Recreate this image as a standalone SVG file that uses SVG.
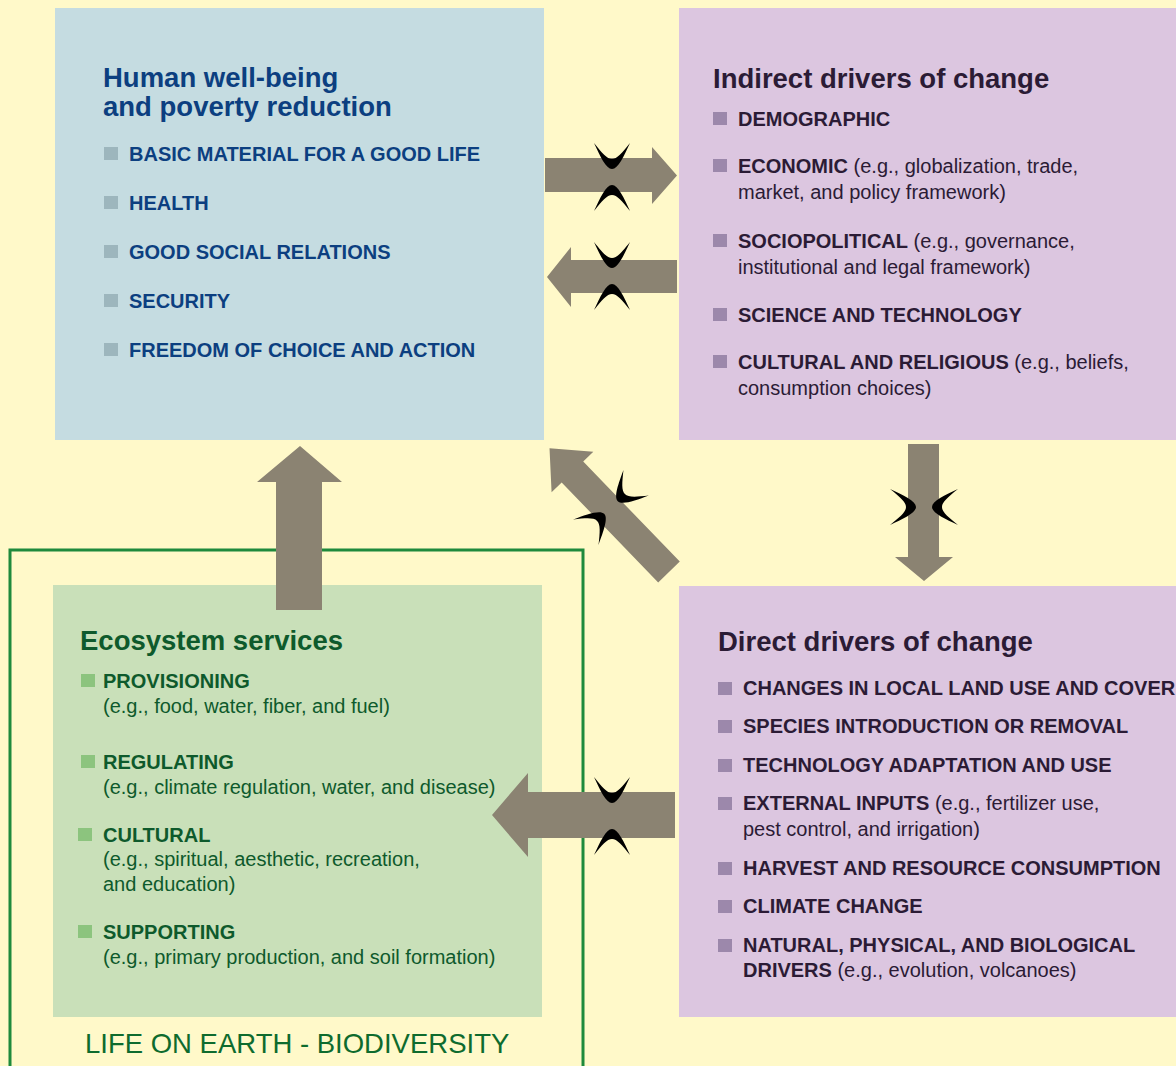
<svg xmlns="http://www.w3.org/2000/svg" xmlns:xlink="http://www.w3.org/1999/xlink" width="1176" height="1066" viewBox="0 0 1176 1066">
<style>
  text { font-family: "Liberation Sans", Arial, sans-serif; }
  .title { font-size: 27.5px; font-weight: bold; }
  .item { font-size: 20px; font-weight: bold; }
  .reg { font-size: 20px; font-weight: normal; }
  .blue { fill: #0C3F80; }
  .purp { fill: #2B1B35; }
  .green { fill: #0E5A2C; }
  .bq { fill: #9DB6BD; }
  .pq { fill: #9C88AB; }
  .gq { fill: #8CC47E; }
  .arrow { fill: #8B8372; }
  .mark { fill: #000000; }
</style>
<defs>
  <path id="cup" d="M-18,-13 C-12,0 -6,13 0,13 C6,13 12,0 18,-13 C10,-3 5,3 0,3 C-5,3 -10,-3 -18,-13 Z"/>
</defs>
<rect x="0" y="0" width="1176" height="1066" fill="#FFF9C9"/>

<g id="biodiversity">
  <rect x="10" y="550" width="573" height="540" fill="none" stroke="#1E8A3C" stroke-width="3"/>
  <text x="85" y="1053" style="font-size:27.5px" fill="#0E6B2E">LIFE ON EARTH - BIODIVERSITY</text>
</g>

<g id="wellbeing">
  <rect x="55" y="8" width="489" height="432" fill="#C5DCE1"/>
  <text class="title blue"><tspan x="103" y="87">Human well-being</tspan><tspan x="103" y="116">and poverty reduction</tspan></text>
  <rect class="bq" x="104" y="147" width="14" height="13"/>
  <text class="item blue" x="129" y="161">BASIC MATERIAL FOR A GOOD LIFE</text>
  <rect class="bq" x="104" y="196" width="14" height="13"/>
  <text class="item blue" x="129" y="210">HEALTH</text>
  <rect class="bq" x="104" y="245" width="14" height="13"/>
  <text class="item blue" x="129" y="259">GOOD SOCIAL RELATIONS</text>
  <rect class="bq" x="104" y="294" width="14" height="13"/>
  <text class="item blue" x="129" y="308">SECURITY</text>
  <rect class="bq" x="104" y="343" width="14" height="13"/>
  <text class="item blue" x="129" y="357">FREEDOM OF CHOICE AND ACTION</text>
</g>

<g id="indirect">
  <rect x="679" y="8" width="500" height="432" fill="#DCC6E0"/>
  <text class="title purp" x="713" y="88">Indirect drivers of change</text>
  <rect class="pq" x="713" y="112" width="14" height="13"/>
  <text class="item purp" x="738" y="126">DEMOGRAPHIC</text>
  <rect class="pq" x="713" y="159" width="14" height="13"/>
  <text class="item purp" x="738" y="173">ECONOMIC<tspan class="reg"> (e.g., globalization, trade,</tspan></text>
  <text class="reg purp" x="738" y="199">market, and policy framework)</text>
  <rect class="pq" x="713" y="234" width="14" height="13"/>
  <text class="item purp" x="738" y="248">SOCIOPOLITICAL<tspan class="reg"> (e.g., governance,</tspan></text>
  <text class="reg purp" x="738" y="274">institutional and legal framework)</text>
  <rect class="pq" x="713" y="308" width="14" height="13"/>
  <text class="item purp" x="738" y="322">SCIENCE AND TECHNOLOGY</text>
  <rect class="pq" x="713" y="355" width="14" height="13"/>
  <text class="item purp" x="738" y="369">CULTURAL AND RELIGIOUS<tspan class="reg"> (e.g., beliefs,</tspan></text>
  <text class="reg purp" x="738" y="395">consumption choices)</text>
</g>

<g id="direct">
  <rect x="679" y="586" width="500" height="431" fill="#DCC6E0"/>
  <text class="title purp" x="718" y="651">Direct drivers of change</text>
  <rect class="pq" x="718" y="682" width="14" height="13"/>
  <text class="item purp" x="743" y="695">CHANGES IN LOCAL LAND USE AND COVER</text>
  <rect class="pq" x="718" y="720" width="14" height="13"/>
  <text class="item purp" x="743" y="733">SPECIES INTRODUCTION OR REMOVAL</text>
  <rect class="pq" x="718" y="759" width="14" height="13"/>
  <text class="item purp" x="743" y="772">TECHNOLOGY ADAPTATION AND USE</text>
  <rect class="pq" x="718" y="797" width="14" height="13"/>
  <text class="item purp" x="743" y="810">EXTERNAL INPUTS<tspan class="reg"> (e.g., fertilizer use,</tspan></text>
  <text class="reg purp" x="743" y="836">pest control, and irrigation)</text>
  <rect class="pq" x="718" y="862" width="14" height="13"/>
  <text class="item purp" x="743" y="875">HARVEST AND RESOURCE CONSUMPTION</text>
  <rect class="pq" x="718" y="900" width="14" height="13"/>
  <text class="item purp" x="743" y="913">CLIMATE CHANGE</text>
  <rect class="pq" x="718" y="939" width="14" height="13"/>
  <text class="item purp" x="743" y="952">NATURAL, PHYSICAL, AND BIOLOGICAL</text>
  <text class="item purp" x="743" y="977">DRIVERS<tspan class="reg"> (e.g., evolution, volcanoes)</tspan></text>
</g>

<g id="ecosystem">
  <rect x="53" y="585" width="489" height="432" fill="#C9E0B9"/>
  <text class="title green" x="80" y="650">Ecosystem services</text>
  <rect class="gq" x="81" y="674" width="14" height="13"/>
  <text class="item green" x="103" y="688">PROVISIONING</text>
  <text class="reg green" x="103" y="713">(e.g., food, water, fiber, and fuel)</text>
  <rect class="gq" x="81" y="755" width="14" height="13"/>
  <text class="item green" x="103" y="769">REGULATING</text>
  <text class="reg green" x="103" y="794">(e.g., climate regulation, water, and disease)</text>
  <rect class="gq" x="78" y="828" width="14" height="13"/>
  <text class="item green" x="103" y="842">CULTURAL</text>
  <text class="reg green" x="103" y="866">(e.g., spiritual, aesthetic, recreation,</text>
  <text class="reg green" x="103" y="891">and education)</text>
  <rect class="gq" x="78" y="925" width="14" height="13"/>
  <text class="item green" x="103" y="939">SUPPORTING</text>
  <text class="reg green" x="103" y="964">(e.g., primary production, and soil formation)</text>
</g>

<g id="connectors">
  <polygon class="arrow" points="545,158 652,158 652,147 677,175.5 652,204 652,192 545,192"/>
  <use href="#cup" class="mark" transform="translate(612,156)"/>
  <use href="#cup" class="mark" transform="translate(612,198) scale(1,-1)"/>

  <polygon class="arrow" points="677,260 571,260 571,247 547,277 571,307 571,293 677,293"/>
  <use href="#cup" class="mark" transform="translate(612,255)"/>
  <use href="#cup" class="mark" transform="translate(612,297) scale(1,-1)"/>

  <polygon class="arrow" points="908,444 939,444 939,557 953,557 924,581 895,557 908,557"/>
  <use href="#cup" class="mark" transform="translate(903,507) rotate(-90)"/>
  <use href="#cup" class="mark" transform="translate(945,507) rotate(90)"/>

  <polygon class="arrow" transform="translate(669,572) rotate(-134)" points="0,-15 139,-15 139,-29 172,0 139,29 139,15 0,15"/>
  <use href="#cup" class="mark" transform="translate(627,492) rotate(45)"/>
  <use href="#cup" class="mark" transform="translate(595,523) rotate(-135)"/>

  <polygon class="arrow" points="276,610 276,482 257,482 300,446 342,482 322,482 322,610"/>

  <polygon class="arrow" points="675,792 528,792 528,773 492,815 528,857 528,838 675,838"/>
  <use href="#cup" class="mark" transform="translate(612,790)"/>
  <use href="#cup" class="mark" transform="translate(612,842) scale(1,-1)"/>
</g>
</svg>
